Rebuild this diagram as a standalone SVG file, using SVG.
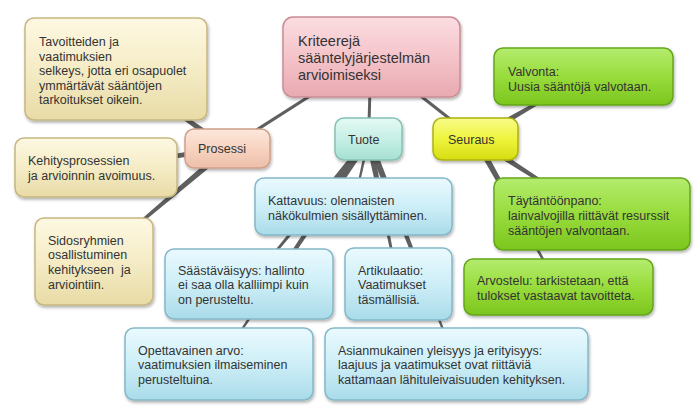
<svg xmlns="http://www.w3.org/2000/svg" width="700" height="411" viewBox="0 0 700 411">
<defs>
<filter id="sh" x="-10%" y="-10%" width="125%" height="135%">
<feDropShadow dx="1" dy="2" stdDeviation="1.5" flood-color="#000" flood-opacity="0.3"/>
</filter>
<linearGradient id="gPink" x1="0" y1="0" x2="0" y2="1"><stop offset="0" stop-color="#fbdde1"/><stop offset="0.5" stop-color="#f4c4ca"/><stop offset="1" stop-color="#e9a9b1"/></linearGradient>
<linearGradient id="gTan" x1="0" y1="0" x2="0" y2="1"><stop offset="0" stop-color="#fdf8e2"/><stop offset="0.5" stop-color="#f5ecc6"/><stop offset="1" stop-color="#e8dba6"/></linearGradient>
<linearGradient id="gPeach" x1="0" y1="0" x2="0" y2="1"><stop offset="0" stop-color="#fde8dc"/><stop offset="0.5" stop-color="#f7d3c1"/><stop offset="1" stop-color="#edbfa8"/></linearGradient>
<linearGradient id="gAqua" x1="0" y1="0" x2="0" y2="1"><stop offset="0" stop-color="#e4faf4"/><stop offset="0.5" stop-color="#c6efe5"/><stop offset="1" stop-color="#a6e0d2"/></linearGradient>
<linearGradient id="gYellow" x1="0" y1="0" x2="0" y2="1"><stop offset="0" stop-color="#f8fb8a"/><stop offset="0.5" stop-color="#eef43c"/><stop offset="1" stop-color="#d6dd12"/></linearGradient>
<linearGradient id="gBlue" x1="0" y1="0" x2="0" y2="1"><stop offset="0" stop-color="#eafafe"/><stop offset="0.5" stop-color="#cdeef7"/><stop offset="1" stop-color="#a9dbe9"/></linearGradient>
<linearGradient id="gGreen" x1="0" y1="0" x2="0" y2="1"><stop offset="0" stop-color="#b4ec6e"/><stop offset="0.5" stop-color="#98dc3c"/><stop offset="1" stop-color="#7cc61e"/></linearGradient>
</defs>
<style>
text{font-family:"Liberation Sans",Arial,sans-serif;font-size:12.5px;fill:#333;white-space:pre}
.big{font-size:14.5px}
rect{stroke-width:1.5;filter:url(#sh)}
.pink{fill:url(#gPink);stroke:#c98d95}
.tan{fill:url(#gTan);stroke:#c6b680}
.peach{fill:url(#gPeach);stroke:#cfa08a}
.aqua{fill:url(#gAqua);stroke:#86c2b4}
.yellow{fill:url(#gYellow);stroke:#adb20e}
.blue{fill:url(#gBlue);stroke:#84b8c8}
.green{fill:url(#gGreen);stroke:#64a61a}
.c line{stroke:#5f5f5f;stroke-width:3}
.c polygon{fill:#5f5f5f}
</style>
<rect width="700" height="411" fill="#fff" style="filter:none;stroke:none"/>
<g class="c" id="connectors">
<line x1="371" y1="57" x2="227.5" y2="148.5"/>
<line x1="371" y1="57" x2="368.5" y2="139"/>
<line x1="371" y1="57" x2="475.5" y2="139"/>
<polygon points="229.4,145.9 116.5,68.3 115.5,69.7 225.6,151.1"/>
<polygon points="227.0,145.3 95.9,166.7 96.1,168.3 228.0,151.7"/>
<polygon points="225.4,146.1 93.5,260.9 94.5,262.1 229.6,150.9"/>
<polygon points="367.0,138.7 352.7,206.3 354.3,206.7 370.0,139.3"/>
<polygon points="366.0,137.0 248.4,283.5 249.6,284.5 371.0,141.0"/>
<polygon points="365.8,137.2 218.3,363.6 219.7,364.4 371.2,140.8"/>
<polygon points="365.4,139.6 397.7,284.2 399.3,283.8 371.6,138.4"/>
<polygon points="365.5,140.2 455.8,364.3 457.2,363.7 371.5,137.8"/>
<polygon points="477.1,141.8 583.9,77.2 583.1,75.8 473.9,136.2"/>
<polygon points="473.8,141.7 591.6,214.7 592.4,213.3 477.2,136.3"/>
<polygon points="472.7,140.6 557.8,287.4 559.2,286.6 478.3,137.4"/>
</g>
<g id="central"><rect class="pink" x="283" y="17" width="177" height="80" rx="10"/>
<text class="big" x="298" y="46">Kriteerejä</text><text class="big" x="298" y="63">sääntelyjärjestelmän</text><text class="big" x="298" y="80">arvioimiseksi</text></g>
<g id="tavoitteiden"><rect class="tan" x="25" y="18" width="182" height="102" rx="9"/>
<text x="39" y="46">Tavoitteiden ja</text><text x="39" y="60.5">vaatimuksien</text><text x="39" y="75">selkeys, jotta eri osapuolet</text><text x="39" y="89.5">ymmärtävät sääntöjen</text><text x="39" y="104">tarkoitukset oikein.</text></g>
<g id="kehitys"><rect class="tan" x="15" y="138" width="162" height="59" rx="9"/>
<text x="28" y="164.5">Kehitysprosessien</text><text x="28" y="180">ja arvioinnin avoimuus.</text></g>
<g id="sidos"><rect class="tan" x="35" y="218" width="118" height="87" rx="9"/>
<text x="48" y="244.5">Sidosryhmien</text><text x="48" y="259">osallistuminen</text><text x="48" y="274">kehitykseen  ja</text><text x="48" y="288.5">arviointiin.</text></g>
<g id="prosessi"><rect class="peach" x="185" y="129" width="85" height="39" rx="9"/>
<text x="198" y="153">Prosessi</text></g>
<g id="tuote"><rect class="aqua" x="335" y="118" width="67" height="42" rx="9"/>
<text x="348" y="144">Tuote</text></g>
<g id="seuraus"><rect class="yellow" x="433" y="118" width="85" height="42" rx="9"/>
<text x="448" y="144">Seuraus</text></g>
<g id="valvonta"><rect class="green" x="494" y="48" width="179" height="57" rx="9"/>
<text x="508" y="75.5">Valvonta:</text><text x="508" y="90.5">Uusia sääntöjä valvotaan.</text></g>
<g id="taytantoonpano"><rect class="green" x="494" y="178" width="196" height="72" rx="9"/>
<text x="508" y="204.5">Täytäntöönpano:</text><text x="508" y="219.5">lainvalvojilla riittävät resurssit</text><text x="508" y="234.5">sääntöjen valvontaan.</text></g>
<g id="arvostelu"><rect class="green" x="464" y="259" width="189" height="56" rx="9"/>
<text x="477" y="284.5">Arvostelu: tarkistetaan, että</text><text x="477" y="300">tulokset vastaavat tavoitteta.</text></g>
<g id="kattavuus"><rect class="blue" x="255" y="178" width="197" height="57" rx="9"/>
<text x="268" y="204.5">Kattavuus: olennaisten</text><text x="268" y="220">näkökulmien sisällyttäminen.</text></g>
<g id="saastavaisyys"><rect class="blue" x="165" y="249" width="168" height="70" rx="9"/>
<text x="178" y="274.5">Säästäväisyys: hallinto</text><text x="178" y="289">ei saa olla kalliimpi kuin</text><text x="178" y="303.5">on perusteltu.</text></g>
<g id="artikulaatio"><rect class="blue" x="345" y="248" width="107" height="72" rx="9"/>
<text x="358" y="274.5">Artikulaatio:</text><text x="358" y="289">Vaatimukset</text><text x="358" y="303.5">täsmällisiä.</text></g>
<g id="opettavainen"><rect class="blue" x="125" y="328" width="188" height="72" rx="9"/>
<text x="138" y="354.5">Opettavainen arvo:</text><text x="138" y="369">vaatimuksien ilmaiseminen</text><text x="138" y="384">perusteltuina.</text></g>
<g id="asianmukainen"><rect class="blue" x="325" y="328" width="263" height="72" rx="9"/>
<text x="338" y="354.5">Asianmukainen yleisyys ja erityisyys:</text><text x="338" y="369">laajuus ja vaatimukset ovat riittäviä</text><text x="338" y="384">kattamaan lähituleivaisuuden kehityksen.</text></g>
</svg>
